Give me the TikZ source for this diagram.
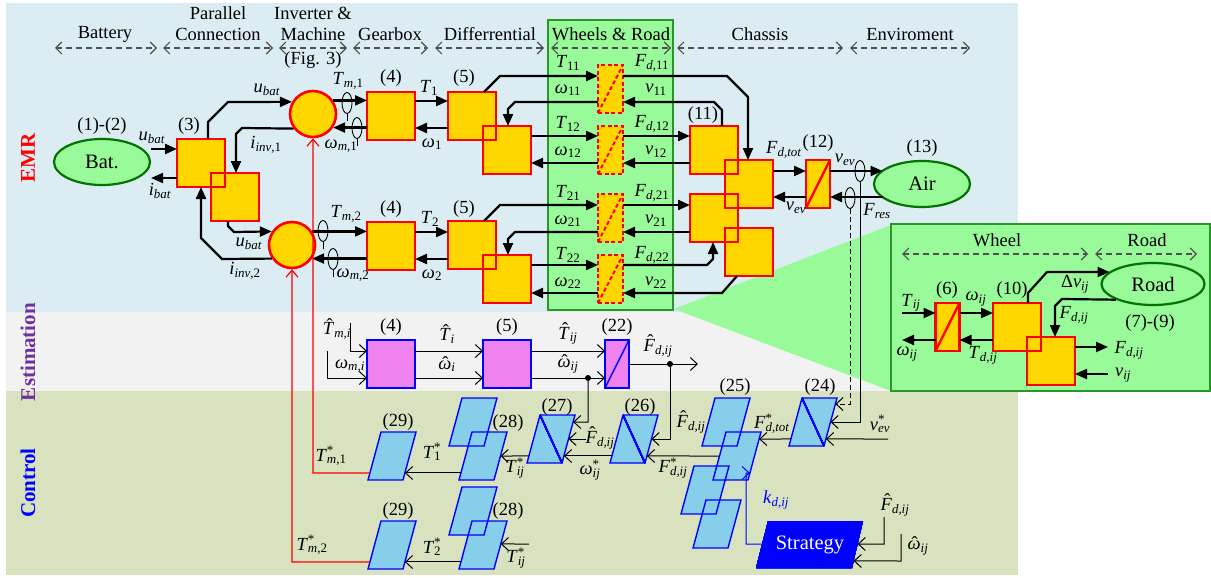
\documentclass[tikz,border=0pt]{standalone}
\usepackage{fontspec}
\setmainfont{Liberation Serif}
\usetikzlibrary{arrows.meta,calc,shapes.geometric}
\definecolor{emrbg}{RGB}{219,237,243}
\definecolor{estbg}{RGB}{242,242,242}
\definecolor{ctlbg}{RGB}{216,226,191}
\definecolor{gold}{RGB}{255,214,0}
\definecolor{lgreen}{RGB}{152,250,152}
\definecolor{dgreen}{RGB}{0,115,0}
\definecolor{bgreen}{RGB}{40,150,40}
\definecolor{violetf}{RGB}{238,130,238}
\definecolor{skyf}{RGB}{135,206,235}
\definecolor{estpurple}{RGB}{112,48,160}
\definecolor{hdrgray}{RGB}{80,80,80}
\newcommand{\myPg}[3]{\fill[skyf] (#2,#3) coordinate (#1-tl) -- ++(35,0) coordinate (#1-tr) -- ++(-13,48) coordinate (#1-br) -- ++(-35,0) coordinate (#1-bl) -- cycle;}
\newcommand{\myPgO}[1]{\draw[blue, line width=1.4pt, line join=miter] (#1-tl) -- (#1-tr) -- (#1-br) -- (#1-bl) -- cycle;}
\newcommand{\myPgD}[1]{\draw[blue, line width=1.4pt] (#1-tl) -- (#1-br);}
% text-mode variables
\newcommand{\myVi}[1]{\textit{#1}}
\newcommand{\myVs}[2]{\textit{#1}\textsubscript{#2}}
\newcommand{\myVst}[2]{\textit{#1}\rlap{\textsuperscript{*}}\textsubscript{#2}}
\newcommand{\myHT}{\ooalign{\textit{T}\cr\hidewidth\raisebox{0.2em}{\kern0.12em ˆ}\hidewidth\cr}}
\newcommand{\myHF}{\ooalign{\textit{F}\cr\hidewidth\raisebox{0.2em}{\kern0.12em ˆ}\hidewidth\cr}}
\newcommand{\myHW}{\ooalign{\textit{ω}\cr\hidewidth\kern0.06em ˆ\hidewidth\cr}}
\begin{document}
\begin{tikzpicture}[x=1pt,y=-1pt,
  every node/.style={font=\fontsize{18.5}{21}\selectfont, inner sep=0pt},
  emr/.style={line width=2.2pt, -{Triangle[length=12pt,width=10pt]}, line join=miter},
  ctl/.style={line width=1pt, -{Straight Barb[length=7pt,width=13pt]}},
  redc/.style={red, line width=1.2pt, -{Straight Barb[length=7pt,width=12pt]}},
  hdr/.style={line width=1.2pt, draw=hdrgray, dash pattern=on 6pt off 4pt, {Straight Barb[length=6pt,width=12pt]}-{Straight Barb[length=6pt,width=12pt]}},
  sqf/.style={rectangle, fill=gold, minimum width=48pt, minimum height=48pt, outer sep=0pt},
  sqo/.style={draw=red, line width=2.6pt},
  circ/.style={circle, fill=gold, draw=red, line width=2.6pt, minimum size=46pt},
  wheel/.style={rectangle, fill=gold, draw=red, line width=2pt, dash pattern=on 4pt off 2.5pt, minimum width=25pt, minimum height=48pt, outer sep=0pt},
  wdiag/.style={red, line width=2pt, dash pattern=on 4pt off 2.5pt},
  conv/.style={rectangle, fill=gold, draw=red, line width=2.6pt, minimum width=24pt, minimum height=48pt, outer sep=0pt},
  estb/.style={rectangle, fill=violetf, draw=blue, line width=1.4pt, minimum width=48pt, minimum height=48pt, outer sep=0pt},
  src/.style={ellipse, fill=lgreen, draw=dgreen, line width=2.2pt, minimum width=96pt, minimum height=46pt, font=\fontsize{20.5}{22}\selectfont},
  sensor/.style={ellipse, draw, line width=0.9pt, minimum width=10pt, minimum height=21pt},
  jdot/.style={circle, fill=black, minimum size=6pt},
  side/.style={rotate=90, font=\bfseries\fontsize{21}{23}\selectfont}
]
\useasboundingbox (0,0) rectangle (1211,578);
% backgrounds
\fill[white] (0,0) rectangle (1211,578);
\fill[emrbg] (6,3) rectangle (1018,312);
\fill[estbg] (6,312) rectangle (1018,391);
\fill[ctlbg] (6,391) rectangle (1018,575);
\fill[lgreen] (674,309) -- (891,225) -- (891,391) -- cycle;
\node[draw=bgreen, fill=lgreen, line width=1.2pt, minimum width=125pt, minimum height=290pt] (wrbox) at (610.5,165) {};
\node[draw=bgreen, fill=lgreen, line width=1.5pt, minimum width=319pt, minimum height=167pt] (cbox) at (1050.5,307.5) {};

% side labels
\node[side, text=red] (lemr) at (28,158) {EMR};
\node[side, text=estpurple] (lest) at (28,352) {Estimation};
\node[side, text=blue] (lctl) at (28,483) {Control};

% headers
\node (hBat) at (105,34) {Battery};
\node[align=center] (hPar) at (218,24) {Parallel\\Connection};
\node[align=center] (hInv) at (313,24) {Inverter \&\\Machine};
\node (hFig) at (313,60) {(Fig. 3)};
\node (hGear) at (390,34) {Gearbox};
\node (hDiff) at (490,34) {Differrential};
\node (hWR) at (611,34) {Wheels \& Road};
\node (hCha) at (760,34) {Chassis};
\node (hEnv) at (910,34) {Enviroment};
\foreach \a/\b in {55/157,163/273,279/347,353/428,435/544,551/671,677/843,850/970}
  \draw[hdr] (\a,48) -- (\b,48);

% ---------------- EMR ----------------
\node[src] (bat) at (102,162) {Bat.};
\node[src] (air) at (922,184) {Air};
\node[circ] (m1) at (313,114) {};
\node[circ] (m2) at (292,245) {};
\foreach \n/\x/\y in {c3a/201/163, c3b/235/197, g1/391/116, g2/391/246, d1a/472/116, d1b/507/150, d2a/472/245, d2b/507/279, cha/714/150, chc/749/184, chb/714/218, chd/749/252}
  \node[sqf] (\n) at (\x,\y) {};
\foreach \n in {c3a, c3b, g1, g2, d1a, d1b, d2a, d2b, cha, chc, chb, chd}
  \draw[sqo] (\n.north west) rectangle (\n.south east);
\foreach \n/\y in {w11/89, w12/150, w21/218, w22/279} {
  \node[wheel] (\n) at (610.5,\y) {};
  \draw[wdiag] (\n.south west) -- (\n.north east);
}
\node[conv] (b12) at (818,184) {};
\draw[red, line width=2.4pt] (b12.south west) -- (b12.north east);

% EMR connectors
\draw[emr] (bat.east |- 0,149) -- (c3a.west |- 0,149);
\draw[emr] (c3a.west |- 0,178) -- (bat.east |- 0,178);
\draw[emr] (c3a.north -| 208,0) -- (208,122) -- (228,102) -- (m1.150);
\draw[emr] (m1.217) -- (242,128) -- (236,134) -- (c3b.north -| 236,0);
\draw[emr] (m1.34) -- (g1.west |- m1.34);
\draw[emr] (g1.west |- m1.326) -- (m1.326);
\draw[emr] (g1.east |- 0,101) -- (d1a.west |- 0,101);
\draw[emr] (d1a.west |- 0,128) -- (g1.east |- 0,128);
\draw[emr] (d1a.north -| 484,0) -- (500,76) -- (w11.west |- 0,76);
\draw[emr] (w11.west |- 0,102) -- (515,102) -- (508,109) -- (d1b.north -| 508,0);
\draw[emr] (d1b.east |- 0,136) -- (w12.west |- 0,136);
\draw[emr] (w12.west |- 0,163) -- (d1b.east |- 0,163);
\draw[emr] (w11.east |- 0,76) -- (727,76) -- (748,97) -- (chc.north -| 748,0);
\draw[emr] (cha.north -| 722,0) -- (722,110) -- (714,102) -- (w11.east |- 0,102);
\draw[emr] (w12.east |- 0,136) -- (cha.west |- 0,136);
\draw[emr] (cha.west |- 0,163) -- (w12.east |- 0,163);
\draw[emr] (chc.east |- 0,171) -- (b12.west |- 0,171);
\draw[emr] (b12.west |- 0,197) -- (chc.east |- 0,197);
\draw[emr] (b12.east |- 0,171) -- (air.160 |- 0,171);
\draw[emr] (air.200 |- 0,197) -- (b12.east |- 0,197);
\draw[emr] (c3b.south -| 228,0) -- (228,226) -- (234,232) -- (m2.146);
\draw[emr] (m2.214) -- (222,259) -- (201,238) -- (c3a.south -| 201,0);
\draw[emr] (m2.34) -- (g2.west |- m2.34);
\draw[emr] (g2.west |- m2.326) -- (m2.326);
\draw[emr] (g2.east |- 0,232) -- (d2a.west |- 0,232);
\draw[emr] (d2a.west |- 0,259) -- (g2.east |- 0,259);
\draw[emr] (d2a.north -| 484,0) -- (500,205) -- (w21.west |- 0,205);
\draw[emr] (w21.west |- 0,232) -- (515,232) -- (508,239) -- (d2b.north -| 508,0);
\draw[emr] (d2b.east |- 0,265) -- (w22.west |- 0,265);
\draw[emr] (w22.west |- 0,293) -- (d2b.east |- 0,293);
\draw[emr] (w21.east |- 0,205) -- (chb.west |- 0,205);
\draw[emr] (chb.west |- 0,232) -- (w21.east |- 0,232);
\draw[emr] (w22.east |- 0,265) -- (707,265) -- (713,259) -- (chb.south -| 713,0);
\draw[emr] (chd.south -| 737,0) -- (722,293) -- (w22.east |- 0,293);

% sensors
\node[sensor] (sTm1) at (347,103) {};
\node[sensor] (sWm1) at (357,128) {};
\node[sensor] (sTm2) at (323,231) {};
\node[sensor] (sWm2) at (333,259) {};
\node[sensor] (sVev) at (860,171) {};
\node[sensor] (sFres) at (850,198) {};
\foreach \s in {sTm1, sWm1, sTm2, sWm2}
  \draw[line width=0.9pt] (\s.south) -- ++(0,7);

% EMR labels
\node (t1) at (102,126) {(1)-(2)};
\node (t2) at (152,138) {\myVs{u}{\myVi{bat}}};
\node (t3) at (160,191) {\myVs{i}{\myVi{bat}}};
\node (t4) at (189,126) {(3)};
\node (t5) at (267,90) {\myVs{u}{\myVi{bat}}};
\node (t6) at (266,145) {\myVs{i}{\myVi{inv},1}};
\node (t7) at (348,81) {\myVs{T}{\myVi{m},1}};
\node (t8) at (341,146) {\myVs{ω}{\myVi{m},1}};
\node (t9) at (391,78) {(4)};
\node (t10) at (429,88) {\myVs{T}{1}};
\node (t11) at (432,144) {\myVs{ω}{1}};
\node (t12) at (464,78) {(5)};
\node (t13) at (568,63) {\myVs{T}{11}};
\node (t14) at (568,90) {\myVs{ω}{11}};
\node (t15) at (568,124) {\myVs{T}{12}};
\node (t16) at (568,152) {\myVs{ω}{12}};
\node (t17) at (568,193) {\myVs{T}{21}};
\node (t18) at (568,221) {\myVs{ω}{21}};
\node (t19) at (568,255) {\myVs{T}{22}};
\node (t20) at (568,283) {\myVs{ω}{22}};
\node (t21) at (652,63) {\myVs{F}{\myVi{d},11}};
\node (t22) at (656,90) {\myVs{v}{11}};
\node (t23) at (652,124) {\myVs{F}{\myVi{d},12}};
\node (t24) at (656,152) {\myVs{v}{12}};
\node (t25) at (652,193) {\myVs{F}{\myVi{d},21}};
\node (t26) at (656,221) {\myVs{v}{21}};
\node (t27) at (652,255) {\myVs{F}{\myVi{d},22}};
\node (t28) at (656,283) {\myVs{v}{22}};
\node (t29) at (703,115) {(11)};
\node (t30) at (784,150) {\myVs{F}{\myVi{d,tot}}};
\node (t31) at (818,143) {(12)};
\node (t32) at (796,208) {\myVs{v}{\myVi{ev}}};
\node (t33) at (845,160) {\myVs{v}{\myVi{ev}}};
\node (t34) at (877,211) {\myVs{F}{\myVi{res}}};
\node (t35) at (922,148) {(13)};
\node (t36) at (346,214) {\myVs{T}{\myVi{m},2}};
\node (t37) at (391,209) {(4)};
\node (t38) at (353,275) {\myVs{ω}{\myVi{m},2}};
\node (t39) at (249,244) {\myVs{u}{\myVi{bat}}};
\node (t40) at (245,271) {\myVs{i}{\myVi{inv},2}};
\node (t41) at (430,219) {\myVs{T}{2}};
\node (t42) at (432,275) {\myVs{ω}{2}};
\node (t43) at (464,209) {(5)};

% ---------------- Estimation ----------------
\node[estb] (est4) at (391,364) {};
\node[estb] (est5) at (507,364) {};
\node[estb, minimum width=24pt] (est22) at (617,364) {};
\draw[blue, line width=1.4pt] (est22.south west) -- (est22.north east);
\coordinate (eTin) at (350,323);
\coordinate (eWin) at (327,351);
\coordinate (eFout) at (698,364);
\draw[ctl] (eTin) -- (350,351) -- (est4.west |- 0,351);
\draw[ctl] (eWin) -- (327,378) -- (est4.west |- 0,378);
\draw[ctl] (est4.east |- 0,351) -- (est5.west |- 0,351);
\draw[ctl] (est4.east |- 0,378) -- (est5.west |- 0,378);
\draw[ctl] (est5.east |- 0,351) -- (est22.west |- 0,351);
\draw[ctl] (est5.east |- 0,378) -- (est22.west |- 0,378);
\draw[ctl] (est22.east |- 0,364) -- (eFout);
\node[jdot] (dot1) at (588,378) {};
\node[jdot] (dot2) at (670,364) {};
\node (el1) at (337,331) {\myHT\textsubscript{\myVi{m,i}}};
\node (el2) at (350,366) {\myVs{ω}{\myVi{m,i}}};
\node (el3) at (391,327) {(4)};
\node (el4) at (507,327) {(5)};
\node (el5) at (617,327) {(22)};
\node (el6) at (447,336) {\myHT\textsubscript{\myVi{i}}};
\node (el7) at (447,366) {\myHW\textsubscript{\myVi{i}}};
\node (el8) at (568,336) {\myHT\textsubscript{\myVi{ij}}};
\node (el9) at (568,366) {\myHW\textsubscript{\myVi{ij}}};
\node (el10) at (658,348) {\myHF\textsubscript{\myVi{d,ij}}};

% ---------------- Control ----------------
\myPg{p24}{802}{398}
\myPg{p25a}{715}{398}
\myPg{p25b}{726}{432}
\myPg{p25c}{694}{466}
\myPg{p25d}{706}{500}
\myPg{p26}{623}{415}
\myPg{p27}{540}{415}
\myPg{p28a}{462}{398}
\myPg{p28b}{472}{432}
\myPg{p29a}{381}{432}
\myPg{p28c}{462}{487}
\myPg{p28d}{472}{521}
\myPg{p29b}{381}{521}
\foreach \n in {p24,p25a,p25b,p25c,p25d,p26,p27,p28a,p28b,p29a,p28c,p28d,p29b}
  \myPgO{\n}
\myPgD{p24}
\myPgD{p26}
\myPgD{p27}
\fill[blue] (768,521) coordinate (st-tl) -- (863,521) coordinate (st-tr) -- (852,568) coordinate (st-br) -- (756,568) coordinate (st-bl) -- cycle;
\node[text=white, font=\fontsize{20.5}{22}\selectfont] (st) at (810,545) {Strategy};

\coordinate (fhs) at (586,439);
\coordinate (tijs) at (529,544);
\coordinate (vevs) at (888,439);
\coordinate (sfin) at (884,517);
\coordinate (swin) at (901,534);
\draw[ctl] (dot1) -- (588,422) -- ($(p27-tr)!0.146!(p27-br)$);
\draw[ctl] (dot2) -- (670,439) -- ($(p26-tr)!0.5!(p26-br)$);
\draw[ctl] (fhs) -- ($(p27-tr)!0.5!(p27-br)$);
\draw[ctl] ($(p26-tl)!0.854!(p26-bl)$) -- ($(p27-tr)!0.854!(p27-br)$);
\draw[ctl] ($(p27-tl)!0.854!(p27-bl)$) -- ($(p28b-tr)!0.5!(p28b-br)$);
\draw[ctl] ($(p28b-tl)!0.854!(p28b-bl)$) -- ($(p29a-tr)!0.854!(p29a-br)$);
\draw[ctl] (tijs) -- ($(p28d-tr)!0.479!(p28d-br)$);
\draw[ctl] ($(p28d-tl)!0.854!(p28d-bl)$) -- ($(p29b-tr)!0.854!(p29b-br)$);
\draw[ctl] ($(p25b-tl)!0.5!(p25b-bl)$) -- ($(p26-tr)!0.854!(p26-br)$);
\draw[ctl] ($(p24-tl)!0.854!(p24-bl)$) -- ($(p25b-tr)!0.146!(p25b-br)$);
\draw[ctl] (sVev.south) -- (860,422) -- ($(p24-tr)!0.5!(p24-br)$);
\draw[ctl, dash pattern=on 5pt off 3pt] (sFres.south) -- (850,404) -- ($(p24-tr)!0.125!(p24-br)$);
\draw[ctl] (vevs) -- ($(p24-tr)!0.854!(p24-br)$);
\draw[ctl, blue] ($(st-tl)!0.49!(st-bl)$) -- (746,544) -- (746,473) -- ($(p25b-tr)!0.854!(p25b-br)$);
\draw[ctl] (sfin) -- (884,544) -- ($(st-tr)!0.49!(st-br)$);
\draw[ctl] (swin) -- (901,561) -- ($(st-tr)!0.85!(st-br)$);
\draw[redc] ($(p29a-tl)!0.854!(p29a-bl)$) -- (313,473) -- (m1.south);
\draw[redc] ($(p29b-tl)!0.854!(p29b-bl)$) -- (292,562) -- (m2.south);

\node (cl1) at (820,387) {(24)};
\node (cl2) at (735,387) {(25)};
\node (cl3) at (640,407) {(26)};
\node (cl4) at (557,407) {(27)};
\node (cl5) at (508,423) {(28)};
\node (cl6) at (508,511) {(28)};
\node (cl7) at (398,422) {(29)};
\node (cl8) at (398,511) {(29)};
\node (cl9) at (691,424) {\myHF\textsubscript{\myVi{d,ij}}};
\node (cl10) at (772,424) {\myVst{F}{\myVi{d,tot}}};
\node (cl11) at (880,424) {\myVst{v}{\myVi{ev}}};
\node (cl12) at (673,468) {\myVst{F}{\myVi{d,ij}}};
\node[text=blue] (cl13) at (776,500) {\myVs{k}{\myVi{d,ij}}};
\node (cl14) at (895,507) {\myHF\textsubscript{\myVi{d,ij}}};
\node (cl15) at (918,548) {\myHW\textsubscript{\myVi{ij}}};
\node (cl16) at (600,440) {\myHF\textsubscript{\myVi{d,ij}}};
\node (cl17) at (590,470) {\myVst{ω}{\myVi{ij}}};
\node (cl18) at (515,468) {\myVst{T}{\myVi{ij}}};
\node (cl19) at (432,452) {\myVst{T}{1}};
\node (cl20) at (331,456) {\myVst{T}{\myVi{m},1}};
\node (cl21) at (516,558) {\myVst{T}{\myVi{ij}}};
\node (cl22) at (432,547) {\myVst{T}{2}};
\node (cl23) at (312,545) {\myVst{T}{\myVi{m},2}};

% ---------------- Callout ----------------
\node (kWheel) at (997,240) {Wheel};
\node (kRoad) at (1147,240) {Road};
\draw[hdr] (902,254) -- (1088,254);
\draw[hdr] (1095,254) -- (1197,254);
\node[conv] (b6) at (947.5,327) {};
\draw[red, line width=2.4pt] (b6.south west) -- (b6.north east);
\node[sqf] (w10a) at (1017,327) {};
\node[sqf] (w10b) at (1051,361) {};
\draw[sqo] (w10a.north west) rectangle (w10a.south east);
\draw[sqo] (w10b.north west) rectangle (w10b.south east);
\node[src, minimum width=103pt, minimum height=42pt] (road) at (1153,284) {Road};
\coordinate (tijin) at (902,313);
\coordinate (wijout) at (902,340);
\coordinate (fdout) at (1108,347);
\coordinate (vijin) at (1108,374);
\draw[emr] (tijin) -- (b6.west |- 0,313);
\draw[emr] (b6.west |- 0,340) -- (wijout);
\draw[emr] (b6.east |- 0,313) -- (w10a.west |- 0,313);
\draw[emr] (w10a.west |- 0,340) -- (b6.east |- 0,340);
\draw[emr] (w10a.north -| 1028,0) -- (1028,293) -- (1047,272) -- (road.164 |- 0,272);
\draw[emr] (road.203) -- (1062,299) -- (1055,306) -- (w10b.north -| 1055,0);
\draw[emr] (w10b.east |- 0,347) -- (fdout);
\draw[emr] (vijin) -- (w10b.east |- 0,374);
\node (kl1) at (911,303) {\myVs{T}{\myVi{ij}}};
\node (kl2) at (907,354) {\myVs{ω}{\myVi{ij}}};
\node (kl3) at (947,290) {(6)};
\node (kl4) at (976,299) {\myVs{ω}{\myVi{ij}}};
\node (kl5) at (983,355) {\myVs{T}{\myVi{d,ij}}};
\node (kl6) at (1012,290) {(10)};
\node (kl7) at (1075,284) {Δ\myVs{v}{\myVi{ij}}};
\node (kl8) at (1150,323) {(7)-(9)};
\node (kl9) at (1074,315) {\myVs{F}{\myVi{d,ij}}};
\node (kl10) at (1129,350) {\myVs{F}{\myVi{d,ij}}};
\node (kl11) at (1123,375) {\myVs{v}{\myVi{ij}}};
\end{tikzpicture}
\end{document}
